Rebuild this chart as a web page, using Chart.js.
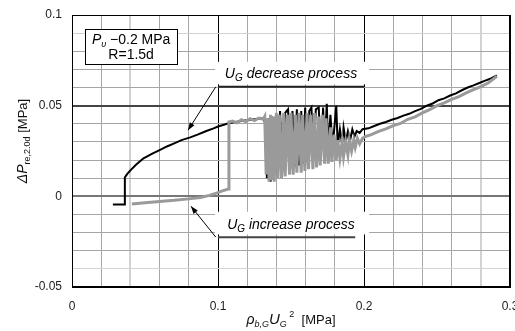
<!DOCTYPE html>
<html>
<head>
<meta charset="utf-8">
<script src="https://cdn.jsdelivr.net/npm/chart.js@4/dist/chart.umd.min.js"></script>
<style>
  body { margin: 0; background: #fff; }
  #wrap { width: 515px; height: 331px; }
</style>
</head>
<body>
<div id="wrap"><canvas id="myChart" width="515" height="331"></canvas></div>
<script>
// increase process (gray)
let incX = [0.041, 0.050, 0.060, 0.070, 0.080, 0.088, 0.094, 0.099, 0.103, 0.107,
  0.1075, 0.110, 0.113, 0.116, 0.119, 0.122, 0.125, 0.128, 0.131,
  0.132, 0.133, 0.134, 0.135, 0.136, 0.137, 0.138, 0.1385, 0.140, 0.141, 0.142, 0.1435,
  0.145, 0.146, 0.1475, 0.149, 0.150, 0.1515, 0.153, 0.154, 0.1555, 0.157, 0.158, 0.1595,
  0.161, 0.162, 0.1635, 0.165, 0.166, 0.1675, 0.169, 0.170, 0.1715, 0.173, 0.174, 0.1755,
  0.177, 0.178, 0.1795, 0.181, 0.182, 0.1835, 0.185, 0.186, 0.1875, 0.189, 0.190, 0.1915,
  0.193, 0.194, 0.1955, 0.197, 0.199, 0.201,
  0.205, 0.210, 0.215, 0.220, 0.225, 0.230, 0.235, 0.240, 0.245, 0.250, 0.255, 0.260,
  0.265, 0.270, 0.275, 0.280, 0.285, 0.291]
let incY = [-0.0042, -0.0036, -0.0028, -0.0022, -0.0014, -0.0006, 0.0005, 0.0018, 0.0030, 0.0040,
  0.0410, 0.0415, 0.0405, 0.0422, 0.0412, 0.0428, 0.0418, 0.0432, 0.0425,
  0.044, 0.012, 0.043, 0.008, 0.045, 0.009, 0.044, 0.008, 0.046, 0.010, 0.045, 0.010,
  0.046, 0.011, 0.045, 0.012, 0.046, 0.012, 0.045, 0.013, 0.046, 0.013, 0.045, 0.014,
  0.046, 0.015, 0.045, 0.015, 0.046, 0.016, 0.044, 0.017, 0.045, 0.018, 0.043, 0.018,
  0.038, 0.019, 0.034, 0.020, 0.031, 0.021, 0.030, 0.022, 0.030, 0.023, 0.031, 0.025,
  0.031, 0.027, 0.032, 0.029, 0.032, 0.033,
  0.0340, 0.0358, 0.0372, 0.0390, 0.0402, 0.0425, 0.0438, 0.0460, 0.0478, 0.0500, 0.0515, 0.0535,
  0.0550, 0.0570, 0.0588, 0.0605, 0.0625, 0.0662]

// decrease process (black)
let decX = [0.028, 0.036, 0.0362, 0.038, 0.040, 0.044, 0.049, 0.055, 0.060, 0.065, 0.070, 0.075,
  0.081, 0.086, 0.092, 0.097, 0.100, 0.104, 0.108, 0.112, 0.116, 0.120, 0.125, 0.130,
  0.131, 0.1325, 0.1335, 0.1345, 0.136, 0.137, 0.138, 0.140, 0.141, 0.1425, 0.144, 0.146,
  0.148, 0.1495, 0.151, 0.1525, 0.154, 0.1555, 0.157, 0.1585, 0.1597, 0.161, 0.1625, 0.164,
  0.1655, 0.167, 0.169, 0.1705, 0.172, 0.173, 0.1745, 0.1755, 0.177, 0.1785, 0.181, 0.182,
  0.1835, 0.185, 0.186, 0.1875, 0.189, 0.1905, 0.192, 0.1935, 0.195, 0.197, 0.199,
  0.203, 0.207, 0.211, 0.215, 0.219, 0.223, 0.227, 0.231, 0.235, 0.239, 0.243, 0.247,
  0.251, 0.255, 0.259, 0.263, 0.267, 0.271, 0.275, 0.279, 0.283, 0.287, 0.291]
let decY = [-0.0045, -0.0045, 0.0105, 0.0125, 0.0143, 0.0175, 0.0210, 0.0235, 0.0255, 0.0275, 0.0292, 0.0310,
  0.0325, 0.0340, 0.0360, 0.0375, 0.0385, 0.0395, 0.0405, 0.0410, 0.0415, 0.0420, 0.0425, 0.0430,
  0.043, 0.040, 0.010, 0.043, 0.008, 0.044, 0.009, 0.045, 0.011, 0.047, 0.013, 0.046,
  0.048, 0.015, 0.047, 0.016, 0.048, 0.017, 0.047, 0.018, 0.049, 0.019, 0.047, 0.049,
  0.021, 0.048, 0.049, 0.023, 0.049, 0.025, 0.051, 0.026, 0.045, 0.027, 0.050, 0.028,
  0.037, 0.029, 0.038, 0.030, 0.036, 0.031, 0.037, 0.033, 0.036, 0.035, 0.037,
  0.0375, 0.0388, 0.0400, 0.0410, 0.0422, 0.0432, 0.0445, 0.0455, 0.0470, 0.0482, 0.0500, 0.0512,
  0.0530, 0.0540, 0.0556, 0.0568, 0.0585, 0.0600, 0.0612, 0.0625, 0.0638, 0.0650, 0.0667]

let xTickLabels = ['0', '0.1', '0.2', '0.3']
let yTickLabels = ['-0.05', '0', '0.05', '0.1']

const near = (a, b) => Math.abs(a - b) < 1e-6
const FONT = 'Arial, "Liberation Sans", sans-serif'

// draws a run of text pieces (sub/superscripts) starting at x
function richText(c, segs, x, y, align) {
    let total = 0
    segs.forEach(s => { c.font = s.f; total += c.measureText(s.t).width })
    let cx = align === 'center' ? x - total / 2 : x
    c.textBaseline = 'alphabetic'
    c.textAlign = 'left'
    segs.forEach(s => {
        c.font = s.f
        c.fillText(s.t, cx, y + (s.dy || 0))
        cx += c.measureText(s.t).width
    })
}

function arrow(c, x1, y1, x2, y2) {
    c.beginPath()
    c.moveTo(x1, y1)
    c.lineTo(x2, y2)
    c.stroke()
    let a = Math.atan2(y2 - y1, x2 - x1)
    c.beginPath()
    c.moveTo(x2, y2)
    c.lineTo(x2 - 8 * Math.cos(a - 0.35), y2 - 8 * Math.sin(a - 0.35))
    c.lineTo(x2 - 8 * Math.cos(a + 0.35), y2 - 8 * Math.sin(a + 0.35))
    c.closePath()
    c.fill()
}

const noPad = s => { s.paddingLeft = 0; s.paddingRight = 0; s.paddingTop = 0; s.paddingBottom = 0 }

const labelsPlugin = {
    id: 'labels',
    afterDatasetsDraw(chart) {
        let c = chart.ctx
        let xs = chart.scales.x, ys = chart.scales.y
        let X = v => xs.getPixelForValue(v), Y = v => ys.getPixelForValue(v)
        let a = chart.chartArea
        c.save()
        c.strokeStyle = '#000'
        c.lineWidth = 1
        c.strokeRect(a.left + 0.5, a.top + 0.5, a.right - a.left - 1, a.bottom - a.top - 1)
        c.fillStyle = '#000'

        // condition box
        let bx = X(0.009), by = Y(0.0923), bw = X(0.072) - bx, bh = Y(0.073) - by
        c.fillStyle = '#fff'
        c.fillRect(bx, by, bw, bh)
        c.strokeRect(Math.round(bx) + 0.5, Math.round(by) + 0.5, Math.round(bw), Math.round(bh))
        c.fillStyle = '#000'
        richText(c, [
            { t: 'P', f: 'italic 14px ' + FONT },
            { t: 'υ', f: 'italic 9px ' + FONT, dy: 3 },
            { t: ' \u22120.2 MPa', f: '14px ' + FONT }
        ], bx + bw / 2, by + 15, 'center')
        richText(c, [{ t: 'R=1.5d', f: '14px ' + FONT }], bx + bw / 2, by + 30, 'center')

        // decrease process callout
        c.fillStyle = '#fff'
        c.fillRect(X(0.098), Y(0.0742), X(0.2035) - X(0.098), Y(0.0618) - Y(0.0742))
        c.fillStyle = '#000'
        richText(c, [
            { t: 'U', f: 'italic 14px ' + FONT },
            { t: 'G', f: 'italic 10px ' + FONT, dy: 3 },
            { t: ' decrease process', f: 'italic 14px ' + FONT }
        ], (X(0.1) + X(0.2)) / 2, Y(0.0604) - 9, 'center')
        c.lineWidth = 2
        c.strokeStyle = '#222'
        c.beginPath()
        c.moveTo(X(0.1), Y(0.0604))
        c.lineTo(X(0.2), Y(0.0604))
        c.stroke()
        c.lineWidth = 1
        c.strokeStyle = '#000'
        arrow(c, X(0.0985), Y(0.0604), X(0.0795), Y(0.0365))

        // increase process callout
        c.fillStyle = '#fff'
        c.fillRect(X(0.098), Y(-0.0085), X(0.2035) - X(0.098), Y(-0.021) - Y(-0.0085))
        c.fillStyle = '#000'
        richText(c, [
            { t: 'U', f: 'italic 14px ' + FONT },
            { t: 'G', f: 'italic 10px ' + FONT, dy: 3 },
            { t: ' increase process', f: 'italic 14px ' + FONT }
        ], (X(0.1) + X(0.2)) / 2, Y(-0.0225) - 8, 'center')
        c.lineWidth = 2
        c.strokeStyle = '#444'
        c.beginPath()
        c.moveTo(X(0.1), Y(-0.0225))
        c.lineTo(X(0.194), Y(-0.0225))
        c.stroke()
        c.lineWidth = 1
        c.strokeStyle = '#000'
        arrow(c, X(0.0985), Y(-0.0225), X(0.0815), Y(-0.0055))

        // axis titles
        c.fillStyle = '#111'
        richText(c, [
            { t: 'ρ', f: 'italic 14px ' + FONT },
            { t: 'b,G', f: 'italic 9px ' + FONT, dy: 3 },
            { t: 'U', f: 'italic 15px ' + FONT },
            { t: 'G', f: 'italic 9px ' + FONT, dy: 3 },
            { t: ' 2', f: '9px ' + FONT, dy: -7 },
            { t: '  [MPa]', f: '13px ' + FONT }
        ], (a.left + a.right) / 2, 324, 'center')
        c.translate(27, (a.top + a.bottom) / 2 - 10)
        c.rotate(-Math.PI / 2)
        richText(c, [
            { t: 'ΔP', f: 'italic 14px ' + FONT },
            { t: 're,2.0d', f: '9px ' + FONT, dy: 3 },
            { t: ' [MPa]', f: '13px ' + FONT }
        ], 0, 0, 'center')
        c.restore()
    }
}

let ctx = document.getElementById('myChart').getContext('2d')
let myChart = new Chart(ctx, {
    type: 'scatter',
    data: {
        datasets: [{
            label: 'U_G increase process',
            data: incX.map((x, i) => ({ x: x, y: incY[i] })),
            showLine: true,
            borderColor: '#9a9a9a',
            borderWidth: 3,
            pointRadius: 0,
            tension: 0
        }, {
            label: 'U_G decrease process',
            data: decX.map((x, i) => ({ x: x, y: decY[i] })),
            showLine: true,
            borderColor: '#000',
            borderWidth: 2,
            pointRadius: 0,
            tension: 0
        }]
    },
    options: {
        responsive: false,
        animation: false,
        layout: {
            autoPadding: false,
            padding: { top: 15, right: 5, left: 0, bottom: 0 }
        },
        plugins: {
            legend: { display: false },
            tooltip: { enabled: false }
        },
        scales: {
            x: {
                type: 'linear',
                min: 0,
                max: 0.3,
                afterFit: s => { s.height = 44; noPad(s) },
                border: { color: '#000' },
                grid: {
                    drawTicks: false,
                    color: c => {
                        let v = c.tick.value
                        if (near(v, 0.1) || near(v, 0.2) || near(v, 0) || near(v, 0.3)) return '#000'
                        if (near(v, 0.04) || near(v, 0.28)) return '#d2d2d2'
                        return '#a6a6a6'
                    },
                    lineWidth: c => (near(c.tick.value, 0.04) || near(c.tick.value, 0.28)) ? 2 : 1
                },
                ticks: {
                    stepSize: 0.02,
                    autoSkip: false,
                    maxRotation: 0,
                    padding: 12,
                    color: '#222',
                    font: { family: FONT, size: 12 },
                    callback: v => {
                        let k = Math.round(v * 10)
                        return near(v * 10, k) ? xTickLabels[k] : ''
                    }
                }
            },
            y: {
                type: 'linear',
                min: -0.05,
                max: 0.1,
                afterFit: s => { s.width = 72; noPad(s) },
                border: { color: '#000' },
                grid: {
                    drawTicks: false,
                    color: c => {
                        let v = c.tick.value
                        if (near(v, 0.05)) return '#444'
                        if (near(v, 0)) return '#777'
                        if (near(v, 0.1) || near(v, -0.05)) return '#000'
                        if (near(v, 0.09) || near(v, -0.04)) return '#d2d2d2'
                        return '#a6a6a6'
                    },
                    lineWidth: c => (near(c.tick.value, 0.05) || near(c.tick.value, 0)) ? 2 : 1
                },
                ticks: {
                    stepSize: 0.01,
                    autoSkip: false,
                    padding: 10,
                    color: '#222',
                    font: { family: FONT, size: 12 },
                    callback: v => {
                        let k = Math.round(v * 20)
                        return near(v * 20, k) ? yTickLabels[k + 1] : ''
                    }
                }
            }
        }
    },
    plugins: [labelsPlugin]
})
</script>
</body>
</html>
